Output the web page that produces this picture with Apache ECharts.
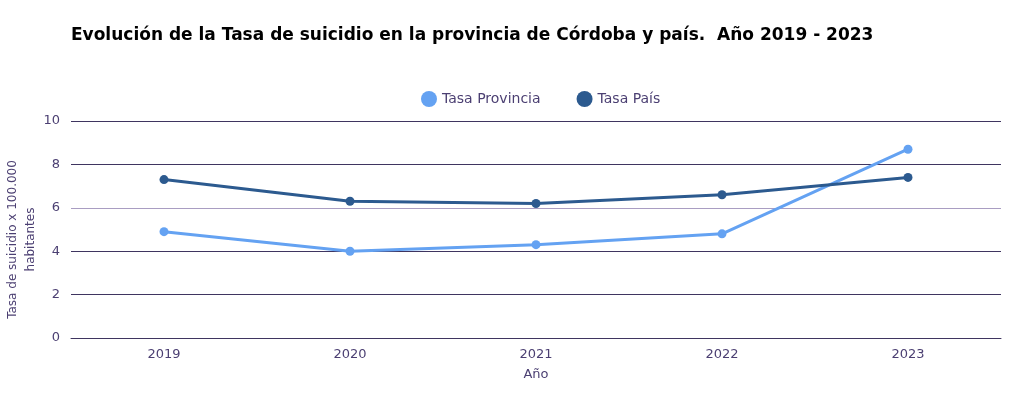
<!DOCTYPE html>
<html>
<head>
<meta charset="utf-8">
<script src="https://cdn.jsdelivr.net/npm/echarts@6/dist/echarts.min.js"></script>
<style>
    html, body { margin: 0; padding: 0; background: #fff; }
    #chart { width: 1014px; height: 396px; }
</style>
</head>
<body>
<div id="chart"></div>
<script>
const years = ['2019', '2020', '2021', '2022', '2023'];
const tasaProvincia = [4.9, 4.0, 4.3, 4.8, 8.7];
const tasaPais = [7.3, 6.3, 6.2, 6.6, 7.4];

const textColor = '#4b3f72';
const font = 'DejaVu Sans';

const chart = echarts.init(document.querySelector('#chart'));
chart.setOption({
    animation: false,
    title: {
        text: 'Evolución de la Tasa de suicidio en la provincia de Córdoba y país.  Año 2019 - 2023',
        left: 66,
        top: 22,
        textStyle: {
            fontFamily: font,
            fontSize: 17,
            fontWeight: 'bold',
            color: '#000'
        }
    },
    legend: {
        top: 86,
        left: 416,
        itemGap: 36,
        icon: 'circle',
        itemWidth: 16,
        itemHeight: 16,
        textStyle: { fontFamily: font, fontSize: 14, color: textColor }
    },
    grid: {
        left: 71,
        right: 13,
        top: 121,
        bottom: 58,
        outerBoundsMode: 'none'
    },
    xAxis: {
        type: 'category',
        data: years,
        name: 'Año',
        nameLocation: 'middle',
        nameGap: 30,
        nameTextStyle: { fontFamily: font, fontSize: 13, color: textColor },
        axisLine: { lineStyle: { color: '#3f3560', width: 1 } },
        axisTick: { show: false },
        axisLabel: { fontFamily: font, fontSize: 13, color: textColor, margin: 10 }
    },
    yAxis: {
        type: 'value',
        min: 0,
        max: 10,
        interval: 2,
        name: 'Tasa de suicidio x 100.000\nhabitantes',
        nameLocation: 'middle',
        nameGap: 31,
        nameMoveOverlap: false,
        nameTextStyle: {
            fontFamily: font,
            fontSize: 12,
            color: textColor,
            lineHeight: 18,
            padding: [0, 20, 0, 0]
        },
        axisLine: { show: false },
        axisTick: { show: false },
        axisLabel: { fontFamily: font, fontSize: 13, color: textColor, margin: 11 },
        splitLine: {
            lineStyle: {
                color: ['#3f3560', '#3f3560', '#3f3560', '#a99dc2', '#3f3560', '#3f3560'],
                width: 1
            }
        }
    },
    series: [
        {
            name: 'Tasa Provincia',
            type: 'line',
            data: tasaProvincia,
            symbol: 'circle',
            symbolSize: 9,
            itemStyle: { color: '#64a2f2' },
            lineStyle: { width: 3, color: '#64a2f2' }
        },
        {
            name: 'Tasa País',
            type: 'line',
            data: tasaPais,
            symbol: 'circle',
            symbolSize: 9,
            itemStyle: { color: '#2c5a8f' },
            lineStyle: { width: 3, color: '#2c5a8f' }
        }
    ]
});
</script>
</body>
</html>
